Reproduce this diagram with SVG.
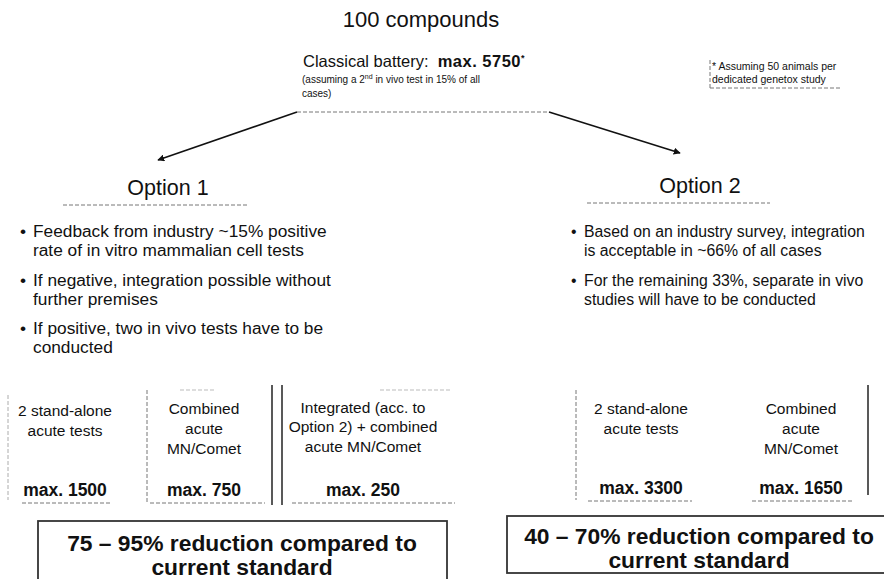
<svg xmlns="http://www.w3.org/2000/svg" width="884" height="579" viewBox="0 0 884 579">
<style>
text{font-family:"Liberation Sans",Arial,sans-serif;fill:#111}
.t{font-size:22px}
.cb{font-size:16.5px}
.sm{font-size:10px}
.fn{font-size:10.5px}
.opt{font-size:21.5px;text-anchor:middle}
.b1{font-size:17.3px}
.b2{font-size:15.8px}
.c{font-size:15.5px;text-anchor:middle}
.m{font-size:17.5px;font-weight:bold;text-anchor:middle}
.r{font-size:22.8px;font-weight:bold;text-anchor:middle}
.dash{stroke:#777;stroke-width:1;stroke-dasharray:4 2;fill:none}
.solid{stroke:#222;stroke-width:1.5;fill:none}
.box{stroke:#333;stroke-width:1.8;fill:#fff}
.conn{stroke:#111;stroke-width:1.6;fill:none;marker-end:url(#ah)}
</style>
<defs>
<marker id="ah" viewBox="0 0 10 10" refX="9" refY="5" markerWidth="7" markerHeight="7" orient="auto" markerUnits="userSpaceOnUse">
<path d="M0,0 L10,5 L0,10 Z" fill="#111"/>
</marker>
</defs>
<rect width="884" height="579" fill="#fff"/>

<g id="top">
<text class="t" x="421" y="27" text-anchor="middle">100 compounds</text>
<text class="cb" x="303" y="67">Classical battery:<tspan dx="9" font-weight="bold" letter-spacing="0.5">max. 5750</tspan><tspan font-size="9" dy="-6" font-weight="bold">*</tspan></text>
<text class="sm" x="302" y="83">(assuming a 2<tspan font-size="7" dy="-4">nd</tspan><tspan dy="4"> in vivo test in 15% of all</tspan></text>
<text class="sm" x="302" y="97">cases)</text>
<line class="dash" x1="297" y1="112" x2="549" y2="112"/>
</g>

<g id="footnote">
<text class="fn" x="712" y="70">* Assuming 50 animals per</text>
<text class="fn" x="712" y="83">dedicated genetox study</text>
<line class="dash" x1="710" y1="88" x2="842" y2="88"/>
<line class="dash" x1="710" y1="60" x2="710" y2="88"/>
</g>

<g id="connectors">
<line class="conn" x1="297" y1="112" x2="158" y2="160"/>
<line class="conn" x1="549" y1="112" x2="680" y2="153"/>
</g>

<g id="option1">
<text class="opt" x="168" y="195">Option 1</text>
<line class="dash" x1="63" y1="205" x2="248" y2="205"/>
<text class="b1" x="20" y="237">•</text>
<text class="b1" x="33" y="237">Feedback from industry<tspan dx="5">~15% positive</tspan></text>
<text class="b1" x="33" y="256">rate of in vitro mammalian cell tests</text>
<text class="b1" x="20" y="286">•</text>
<text class="b1" x="33" y="286">If negative, integration possible without</text>
<text class="b1" x="33" y="305">further premises</text>
<text class="b1" x="20" y="334">•</text>
<text class="b1" x="33" y="334">If positive, two in vivo tests have to be</text>
<text class="b1" x="33" y="353">conducted</text>
</g>

<g id="option2">
<text class="opt" x="700" y="193">Option 2</text>
<line class="dash" x1="587" y1="203" x2="770" y2="203"/>
<text class="b2" x="571" y="237">•</text>
<text class="b2" x="584" y="237">Based on an industry survey, integration</text>
<text class="b2" x="584" y="256">is acceptable in ~66% of all cases</text>
<text class="b2" x="571" y="286">•</text>
<text class="b2" x="584" y="286">For the remaining 33%, separate in vivo</text>
<text class="b2" x="584" y="305">studies will have to be conducted</text>
</g>

<g id="table1">
<line class="dash" x1="8" y1="395" x2="8" y2="500" stroke-opacity="0.6"/>
<line class="dash" x1="147" y1="390" x2="147" y2="502"/>
<line class="solid" x1="272" y1="385" x2="272" y2="505"/>
<line class="solid" x1="282" y1="385" x2="282" y2="505"/>
<line class="dash" x1="22" y1="503" x2="112" y2="503"/>
<line class="dash" x1="150" y1="503" x2="265" y2="503"/>
<line class="dash" x1="292" y1="503" x2="455" y2="503"/>
<line class="dash" x1="180" y1="390" x2="215" y2="390" stroke-opacity="0.5"/>
<line class="dash" x1="380" y1="390" x2="450" y2="390" stroke-opacity="0.5"/>
<text class="c" x="65" y="416">2 stand-alone</text>
<text class="c" x="65" y="436">acute tests</text>
<text class="m" x="65" y="496">max. 1500</text>
<text class="c" x="204" y="414">Combined</text>
<text class="c" x="204" y="434">acute</text>
<text class="c" x="204" y="454">MN/Comet</text>
<text class="m" x="204" y="496">max. 750</text>
<text class="c" x="363" y="413">Integrated (acc. to</text>
<text class="c" x="363" y="432">Option 2) + combined</text>
<text class="c" x="363" y="452">acute MN/Comet</text>
<text class="m" x="363" y="496">max. 250</text>
</g>

<g id="table2">
<line class="dash" x1="576" y1="390" x2="576" y2="500"/>
<line class="solid" x1="868" y1="385" x2="868" y2="495"/>
<line class="dash" x1="588" y1="501" x2="692" y2="501"/>
<line class="dash" x1="752" y1="501" x2="852" y2="501"/>
<text class="c" x="641" y="414">2 stand-alone</text>
<text class="c" x="641" y="434">acute tests</text>
<text class="m" x="641" y="494">max. 3300</text>
<text class="c" x="801" y="414">Combined</text>
<text class="c" x="801" y="434">acute</text>
<text class="c" x="801" y="454">MN/Comet</text>
<text class="m" x="801" y="494">max. 1650</text>
</g>

<g id="result1">
<rect class="box" x="38" y="521" width="409" height="70"/>
<text class="r" x="242" y="551">75 – 95% reduction compared to</text>
<text class="r" x="242" y="575">current standard</text>
</g>

<g id="result2">
<rect class="box" x="507" y="516" width="390" height="57"/>
<text class="r" x="699" y="544">40 – 70% reduction compared to</text>
<text class="r" x="699" y="568">current standard</text>
</g>
</svg>
